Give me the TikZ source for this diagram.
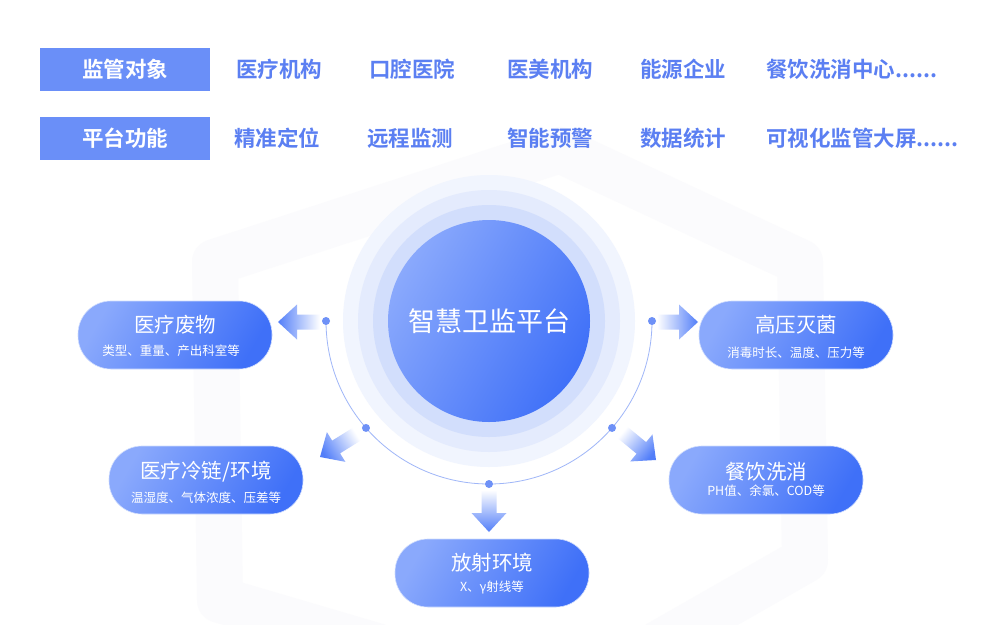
\documentclass[tikz,border=0pt]{standalone}
\usepackage{fontspec}
\setmainfont{Noto Sans CJK SC}
\newfontfamily\cjkbold{Noto Sans CJK SC Bold}
\usetikzlibrary{shapes.misc,positioning,calc}

\definecolor{tagblue}{HTML}{6A8FF8}
\definecolor{itemblue}{HTML}{5B7FF2}
\definecolor{pilllight}{HTML}{8AA9FC}
\definecolor{pilldark}{HTML}{3F70F8}
\definecolor{ringA}{HTML}{F1F5FE}
\definecolor{ringB}{HTML}{E4EBFD}
\definecolor{ringC}{HTML}{D2DEFC}
\definecolor{arcblue}{HTML}{9FB6F8}
\definecolor{dotblue}{HTML}{6E91F7}
\definecolor{marklight}{HTML}{FBFBFD}

\newcommand\sixdots{......}

% block arrow from #1 (tail) to #2 (tip), #3 = shading angle
\newcommand\flowarrow[3]{%
    \coordinate (fa-n) at ($(#2)!19pt!(#1)$);
    \shade[top color=pilldark!90, bottom color=white, shading angle=#3]
        ($(#1)!7.5pt!90:(#2)$) -- ($(fa-n)!7.5pt!90:(#2)$) -- ($(fa-n)!17.5pt!90:(#2)$)
        -- (#2) -- ($(fa-n)!17.5pt!-90:(#2)$) -- ($(fa-n)!7.5pt!-90:(#2)$)
        -- ($(#1)!7.5pt!-90:(#2)$) -- cycle;
}

\begin{document}
\begin{tikzpicture}[
        x=1pt, y=-1pt,
        tag/.style={
            rectangle, fill=tagblue, minimum width=170pt, minimum height=43pt,
            inner sep=0pt, font=\cjkbold\fontsize{21.5}{22}\selectfont, text=white
        },
        item/.style={
            anchor=west, inner sep=0pt, font=\cjkbold\fontsize{21.5}{22}\selectfont,
            text=itemblue
        },
        pill/.style={
            rectangle, rounded corners=33pt, minimum width=194pt, minimum height=68pt,
            left color=pilllight, right color=pilldark, shading angle=60,
            draw=white!60!pilllight, line width=0.6pt, inner sep=0pt
        },
        ptitle/.style={font=\fontsize{20.5}{21}\selectfont, text=white, inner sep=0pt},
        psub/.style={font=\fontsize{12.5}{13}\selectfont, text=white, inner sep=0pt},
        dot/.style={circle, fill=dotblue, minimum size=8pt, inner sep=0pt}
    ]
    \useasboundingbox (0,0) rectangle (982,624);
    \fill[white] (0,0) rectangle (982,624);

    % Faint shield mark behind the diagram
    \draw[marklight, line width=46pt, line join=round]
        (560,150) -- (800,262) -- (805,560) -- (560,700) -- (220,600) -- (215,262) -- cycle;

    % Top rows
    \node[tag] (objtag) at (125,69) {监管对象};
    \node[tag] (funtag) at (125,138) {平台功能};
    \foreach \t/\xx [count=\i] in {{医疗机构}/236,{口腔医院}/369,{医美机构}/507,{能源企业}/640,{餐饮洗消中心\sixdots}/766} {
        \node[item] (obj\i) at (\xx,69) {\t};
    }
    \foreach \t/\xx [count=\i] in {{精准定位}/234,{远程监测}/367,{智能预警}/507,{数据统计}/640,{可视化监管大屏\sixdots}/766} {
        \node[item] (fun\i) at (\xx,138) {\t};
    }

    % Center platform
    \coordinate (hub) at (489,321);
    \fill[ringA] (hub) circle (146);
    \fill[ringB] (hub) circle (131);
    \fill[ringC] (hub) circle (116);
    \shade[left color=pilllight, right color=pilldark, shading angle=60] (hub) circle (101);
    \node[font=\fontsize{27}{27}\selectfont, text=white] (core) at (hub) {智慧卫监平台};

    % Thin arc with dots
    \draw[arcblue, line width=0.8pt] ($(hub)+(180:163)$) arc[start angle=180, end angle=0, radius=163];
    \node[dot] (dL)  at ($(hub)+(180:163)$) {};
    \node[dot] (dLL) at ($(hub)+(139:163)$) {};
    \node[dot] (dB)  at ($(hub)+(90:163)$) {};
    \node[dot] (dLR) at ($(hub)+(41:163)$) {};
    \node[dot] (dR)  at ($(hub)+(0:163)$) {};

    % Monitored areas
    \node[pill] (waste) at (175,335) {};
    \node[ptitle] at ([yshift=10pt]waste.center) {医疗废物};
    \node[psub] at ([xshift=-4pt,yshift=-16pt]waste.center) {类型、重量、产出科室等};

    \node[pill] (steril) at (796,335) {};
    \node[ptitle] at ([yshift=10pt]steril.center) {高压灭菌};
    \node[psub] at ([yshift=-18pt]steril.center) {消毒时长、温度、压力等};

    \node[pill] (cold) at (206,480) {};
    \node[ptitle] at ([yshift=8pt]cold.center) {医疗冷链/环境};
    \node[psub] at ([yshift=-18pt]cold.center) {温湿度、气体浓度、压差等};

    \node[pill] (dining) at (766,480) {};
    \node[ptitle] at ([yshift=8pt]dining.center) {餐饮洗消};
    \node[psub] at ([yshift=-11pt]dining.center) {PH值、余氯、COD等};

    \node[pill] (radio) at (492,573) {};
    \node[ptitle] at ([yshift=10pt]radio.center) {放射环境};
    \node[psub] at ([yshift=-14pt]radio.center) {X、γ射线等};

    % Flow arrows: dots -> areas
    \coordinate (tL)  at (320,322);  \coordinate (hL)  at (278,322);
    \coordinate (tR)  at (657,322);  \coordinate (hR)  at (698,322);
    \coordinate (tLL) at (357,434);  \coordinate (hLL) at (320,457);
    \coordinate (tLR) at (622,432);  \coordinate (hLR) at (656,460);
    \coordinate (tB)  at (489,490);  \coordinate (hB)  at (489,532);
    \flowarrow{tL}{hL}{90}
    \flowarrow{tR}{hR}{-90}
    \flowarrow{tLL}{hLL}{122}
    \flowarrow{tLR}{hLR}{-130}
    \flowarrow{tB}{hB}{180}
\end{tikzpicture}
\end{document}
